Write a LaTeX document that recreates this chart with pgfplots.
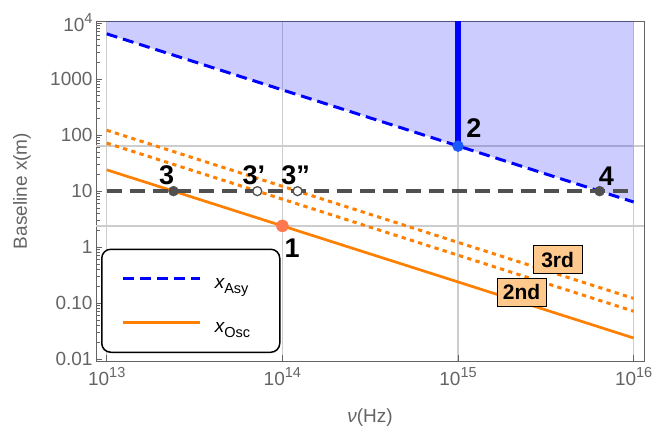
\documentclass[border=0pt]{standalone}
\usepackage{pgfplots}
\pgfplotsset{compat=1.18}
\usepackage{fontspec}
\setmainfont{Liberation Sans}
\definecolor{mygray}{RGB}{100,100,100}
\definecolor{gridgray}{RGB}{205,205,205}
\definecolor{morange}{RGB}{255,128,0}
\definecolor{dgray}{RGB}{80,80,80}
\definecolor{ptone}{RGB}{255,120,80}
\definecolor{pttwo}{RGB}{25,90,255}
\definecolor{boxorange}{RGB}{255,200,140}
\newcommand{\sups}[2]{#1\raisebox{0.42em}{\fontsize{14.5}{15}\selectfont #2}}
\newcommand{\sub}[2]{{\itshape #1}\raisebox{-0.3em}{\fontsize{14.5}{15}\selectfont #2}}
\begin{document}
\begin{tikzpicture}
\useasboundingbox (-96pt,-65pt) rectangle (559pt,361pt);
\begin{axis}[
  at={(0pt,0pt)}, anchor=south west,
  scale only axis, width=548pt, height=340pt,
  xmode=log, ymode=log,
  xmin=8.69e12, xmax=1.146e16,
  ymin=9.33e-3, ymax=1.084e4,
  axis line style={mygray, line width=1pt},
  tick align=inside, xtick pos=bottom, ytick pos=left,
  xtick={1e13,1e14,1e15,1e16},
  xticklabels={\sups{10}{13},\sups{10}{14},\sups{10}{15},\sups{10}{16}},
  ytick={0.01,0.1,1,10,100,1000,10000},
  yticklabels={0.01,0.10,1,10,100,1000,\sups{10}{4}},
  xminorticks=false,
  minor ytick={0.02,0.03,0.04,0.05,0.06,0.07,0.08,0.09,0.2,0.3,0.4,0.5,0.6,0.7,0.8,0.9,2,3,4,5,6,7,8,9,20,30,40,50,60,70,80,90,200,300,400,500,600,700,800,900,2000,3000,4000,5000,6000,7000,8000,9000},
  major tick length=6pt, minor tick length=3.5pt,
  every tick/.style={mygray, line width=0.9pt},
  ticklabel style={font=\fontsize{19}{22}\selectfont, text=mygray},
  xticklabel style={yshift=-3pt},
  xmajorgrids,
  grid style={gridgray, line width=1.3pt},
  extra y ticks={2.4,63.5}, extra y tick labels={},
  extra y tick style={grid=major, major tick length=0pt},
  xlabel={\textit{ν}(Hz)},
  ylabel={Baseline x(m)},
  label style={font=\fontsize{19}{22}\selectfont, text=mygray},
  xlabel style={at={(axis description cs:0.5,-0.165)}, anchor=center},
  ylabel style={at={(axis description cs:-0.135,0.5)}, anchor=center},
  legend image code/.code={\draw[#1] (0pt,10pt) -- (77pt,10pt);},
  legend style={at={(0.0091,0.0235)}, anchor=south west, draw=black, fill=white,
    line width=1.5pt, rounded corners=9pt, inner xsep=20pt, inner ysep=10pt,
    font=\fontsize{19}{22}\selectfont, column sep=13pt, row sep=5pt,
    cells={anchor=base west},
    nodes={inner sep=0pt, text height=29pt, text depth=10pt, text width=45pt}},
]
% shaded region above x_Asy
\addplot[forget plot, draw=none, fill=blue, fill opacity=0.2]
  coordinates {(1e13,6400) (1e16,6.4) (1e16,1.084e4) (1e13,1.084e4) (1e13,6400)};
% vertical thick line at point 2
\addplot[forget plot, blue, line width=5.5pt] coordinates {(1e15,63.5) (1e15,1.084e4)};
% x_Asy
\addplot[blue, line width=3pt, dash pattern=on 11pt off 6pt] coordinates {(1e13,6400) (1e16,6.4)};
\addlegendentry{\sub{x}{Asy}}
% x_Osc
\addplot[morange, line width=2.7pt] coordinates {(1e13,24) (1e16,0.024)};
\addlegendentry{\sub{x}{Osc}}
% 2nd and 3rd harmonics
\addplot[forget plot, morange, line width=3pt, dash pattern=on 4.3pt off 4.3pt] coordinates {(1e13,72) (1e16,0.072)};
\addplot[forget plot, morange, line width=3pt, dash pattern=on 4.3pt off 4.3pt] coordinates {(1e13,122) (1e16,0.122)};
% horizontal 10 m line
\addplot[forget plot, dgray, line width=3.5pt, dash pattern=on 15pt off 8pt] coordinates {(1e13,10) (1e16,10)};
% points
\addplot[forget plot, only marks, mark=*, mark size=5.5pt, color=pttwo] coordinates {(1e15,63.5)};
\addplot[forget plot, only marks, mark=*, mark size=6pt, color=ptone] coordinates {(1e14,2.4)};
\addplot[forget plot, only marks, mark=*, mark size=5pt, color=dgray] coordinates {(2.4e13,10) (6.4e15,10)};
\addplot[forget plot, only marks, mark=*, mark size=4.5pt, draw=dgray, fill=white, line width=1.3pt,
  mark options={draw=dgray, fill=white}] coordinates {(7.2e13,10) (1.22e14,10)};
% labels
\node[font=\bfseries\fontsize{27}{27}\selectfont] at (axis cs:1.135e14,0.97) {1};
\node[font=\bfseries\fontsize{27}{27}\selectfont] at (axis cs:1.23e15,133) {2};
\node[font=\bfseries\fontsize{27}{27}\selectfont] at (axis cs:2.19e13,19.5) {3};
\node[font=\bfseries\fontsize{27}{27}\selectfont] at (axis cs:6.88e13,19.5) {3’};
\node[font=\bfseries\fontsize{27}{27}\selectfont] at (axis cs:1.19e14,19.5) {3”};
\node[font=\bfseries\fontsize{27}{27}\selectfont] at (axis cs:7.0e15,18.2) {4};
\node[draw=black, fill=boxorange, line width=1pt, font=\bfseries\fontsize{21}{21}\selectfont,
  minimum width=49pt, minimum height=28pt, inner sep=2pt] at (axis cs:3.69e15,0.593) {3rd};
\node[draw=black, fill=boxorange, line width=1pt, font=\bfseries\fontsize{21}{21}\selectfont,
  minimum width=49pt, minimum height=28pt, inner sep=2pt] at (axis cs:2.30e15,0.157) {2nd};
\end{axis}
\end{tikzpicture}
\end{document}
